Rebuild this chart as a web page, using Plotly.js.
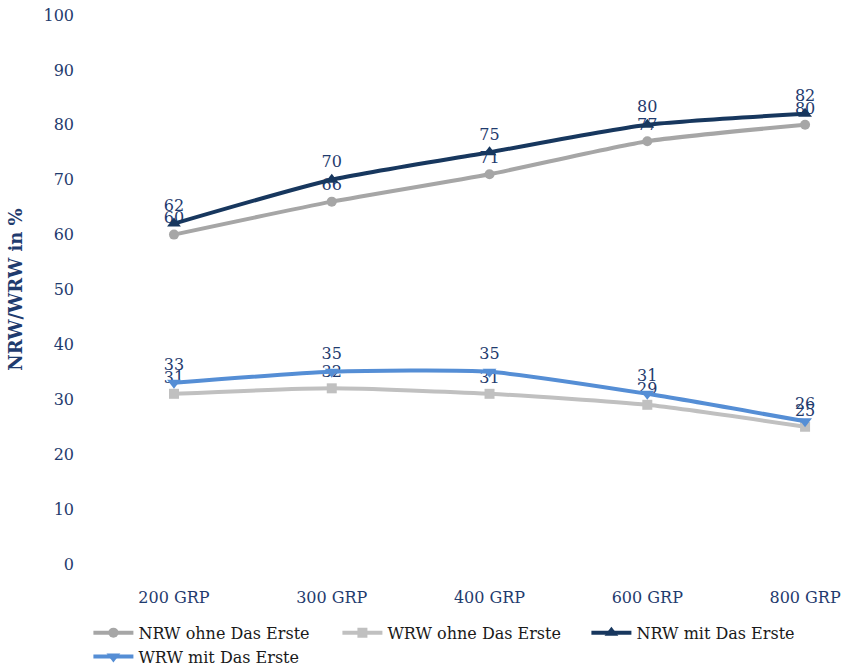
<!DOCTYPE html>
<html><head><meta charset="utf-8">
<script src="https://cdn.plot.ly/plotly-3.0.1.min.js"></script>
<style>body{margin:0;background:#fff}#c{width:842px;height:670px}</style>
</head><body><div id="c"></div>
<script>
const categories = ["200 GRP", "300 GRP", "400 GRP", "600 GRP", "800 GRP"];
const nrwOhne = [60, 66, 71, 77, 80];
const wrwOhne = [31, 32, 31, 29, 25];
const nrwMit = [62, 70, 75, 80, 82];
const wrwMit = [33, 35, 35, 31, 26];
const yTicks = [0, 10, 20, 30, 40, 50, 60, 70, 80, 90, 100];

const navy = "#1f3b6e";
const xs = categories.map((c, i) => i);
function tr(name, y, color, symbol, size) {
  return {
    x: xs, y: y, name: name, type: "scatter", mode: "lines+markers+text",
    line: {color: color, width: 4, shape: "spline", smoothing: 0.6},
    marker: {color: color, symbol: symbol, size: size},
    text: y.map(String), textposition: "top center",
    textfont: {family: "DejaVu Serif", size: 16, color: navy},
    cliponaxis: false, hoverinfo: "skip"
  };
}
const data = [
  tr("NRW ohne Das Erste", nrwOhne, "#a6a6a6", "circle", 10),
  tr("WRW ohne Das Erste", wrwOhne, "#c0c0c0", "square", 10),
  tr("NRW mit Das Erste", nrwMit, "#17375e", "triangle-up", 12),
  tr("WRW mit Das Erste", wrwMit, "#558ed5", "triangle-down", 12)
];
const layout = {
  width: 842, height: 670,
  margin: {l: 85, r: 12, t: 15, b: 106, autoexpand: false},
  paper_bgcolor: "#fff", plot_bgcolor: "#fff",
  showlegend: true,
  xaxis: {
    range: [-0.564, 4.158], tickvals: xs, ticktext: categories,
    showgrid: false, zeroline: false, showline: false, ticks: "",
    tickfont: {family: "DejaVu Serif", size: 16, color: navy},
    ticklabelstandoff: 22
  },
  yaxis: {
    range: [0, 100], tickvals: yTicks, showgrid: false, zeroline: false,
    showline: false, ticks: "",
    tickfont: {family: "DejaVu Serif", size: 16, color: navy},
    ticklabelstandoff: 10,
    title: {text: "<b>NRW/WRW in %</b>", font: {family: "DejaVu Serif", size: 18, color: navy}, standoff: 16}
  },
  legend: {
    orientation: "h", xref: "container", yref: "container",
    x: 0.105, y: 0.081, xanchor: "left", yanchor: "top",
    font: {family: "DejaVu Serif", size: 16, color: "#1a1a1a"},
    entrywidth: 194, entrywidthmode: "pixels", itemwidth: 40,
    tracegroupgap: 0
  }
};
Plotly.newPlot("c", data, layout, {displayModeBar: false, staticPlot: true});
</script></body></html>
